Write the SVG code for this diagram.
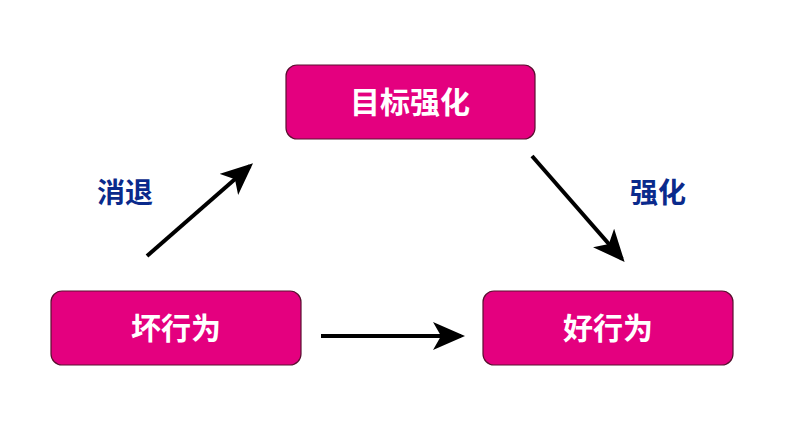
<svg xmlns="http://www.w3.org/2000/svg" width="800" height="424" viewBox="0 0 800 424">
<style>
.box{fill:#E4007F;stroke:#5a1030;stroke-width:1.2}
.bt{fill:#fff;font-family:"Liberation Sans","Noto Sans CJK SC",sans-serif;font-weight:bold;font-size:30px;text-anchor:middle;dominant-baseline:central}
.lb{fill:#0A2A8C;font-family:"Liberation Sans","Noto Sans CJK SC",sans-serif;font-weight:bold;font-size:28px;text-anchor:middle;dominant-baseline:central}
.c{stroke:#000;stroke-width:4;fill:none;marker-end:url(#ah)}
</style>
<defs>
<marker id="ah" viewBox="0 0 32 28" refX="28" refY="14" markerWidth="32" markerHeight="28" markerUnits="userSpaceOnUse" orient="auto">
<path d="M0,0 L32,14 L0,28 L8,14 Z" fill="#000"/>
</marker>
</defs>
<g id="n_target"><rect class="box" x="286" y="65" width="249" height="74" rx="11"/><text class="bt" x="410" y="102">目标强化</text></g>
<g id="n_bad"><rect class="box" x="51" y="291" width="250" height="74" rx="11"/><text class="bt" x="176" y="328">坏行为</text></g>
<g id="n_good"><rect class="box" x="483" y="291" width="250" height="74" rx="11"/><text class="bt" x="608" y="328">好行为</text></g>
<g id="connectors">
<line class="c" x1="147" y1="256" x2="250" y2="166"/>
<line class="c" x1="532" y1="156" x2="622" y2="259"/>
<line class="c" x1="321" y1="336" x2="461" y2="336"/>
</g>
<text class="lb" x="125" y="193">消退</text>
<text class="lb" x="658" y="193">强化</text>
</svg>
